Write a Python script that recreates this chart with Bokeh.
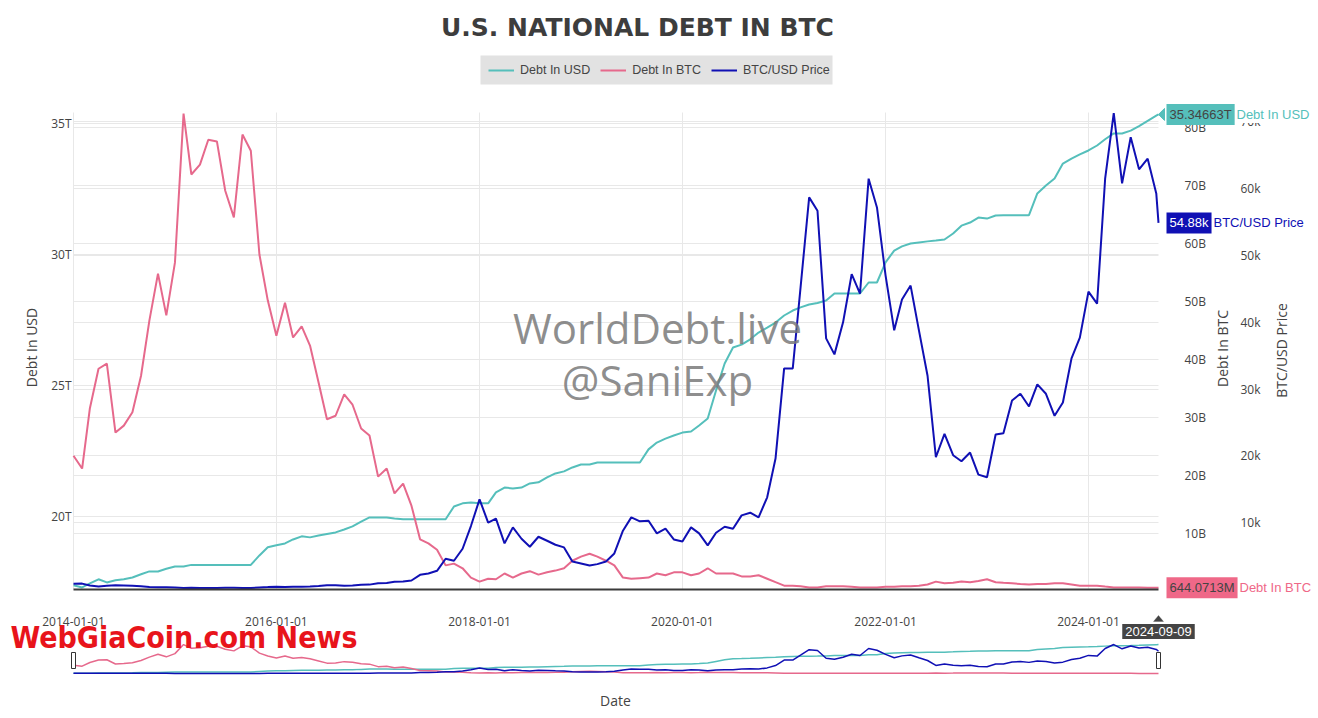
import numpy as np
import pandas as pd
from bokeh.plotting import figure
from bokeh.models import (Range1d, LinearAxis, DatetimeAxis, FixedTicker, Grid, Label,
                          Legend, LegendItem, PolyAnnotation, BoxAnnotation,
                          DatetimeTickFormatter, ColumnDataSource)
from bokeh.embed import file_html
from bokeh.resources import INLINE

# ---------------- data ----------------
months = list(pd.date_range("2014-01-01", "2024-09-01", freq="MS"))
dates = months + [pd.Timestamp("2024-09-09")]

debt_usd_t = [
    17.37, 17.29, 17.44, 17.60, 17.48, 17.56, 17.60, 17.67, 17.79, 17.90, 17.90, 18.00,
    18.09, 18.09, 18.15, 18.15, 18.15, 18.15, 18.15, 18.15, 18.15, 18.15, 18.51, 18.82,
    18.90, 18.97, 19.12, 19.24, 19.20, 19.27, 19.33, 19.39, 19.50, 19.62, 19.80, 19.96,
    19.96, 19.96, 19.92, 19.89, 19.89, 19.89, 19.89, 19.89, 19.89, 20.38, 20.50, 20.53,
    20.50, 20.50, 20.92, 21.10, 21.07, 21.10, 21.26, 21.30, 21.49, 21.64, 21.72, 21.87,
    21.98, 21.98, 22.06, 22.06, 22.06, 22.06, 22.06, 22.06, 22.56, 22.82, 22.97, 23.09,
    23.20, 23.24, 23.47, 23.74, 24.81, 25.84, 26.45, 26.56, 26.76, 27.02, 27.21, 27.40,
    27.67, 27.86, 27.98, 28.09, 28.15, 28.24, 28.51, 28.51, 28.51, 28.51, 28.93, 28.93,
    29.70, 30.15, 30.31, 30.42, 30.46, 30.50, 30.53, 30.57, 30.80, 31.10, 31.22, 31.41,
    31.37, 31.49, 31.50, 31.50, 31.50, 31.50, 32.33, 32.63, 32.90, 33.47, 33.66, 33.82,
    33.97, 34.16, 34.40, 34.62, 34.62, 34.73, 34.90, 35.10, 35.30,
    35.34663,
]

debt_btc_b = [
    23.4, 21.2, 31.6, 38.4, 39.3, 27.4, 28.6, 30.9, 37.2, 46.7, 54.8, 47.6,
    56.7, 82.4, 71.9, 73.6, 77.9, 77.6, 69.1, 64.5, 78.8, 76.0, 58.1, 50.2,
    44.1, 49.8, 43.8, 45.7, 42.4, 36.0, 29.7, 30.3, 34.0, 32.2, 28.1, 26.9,
    19.8, 21.2, 16.9, 18.6, 14.8, 9.0, 8.3, 7.2, 4.5, 4.8, 4.0, 2.4,
    1.7, 2.2, 2.1, 3.1, 2.4, 3.1, 3.5, 2.9, 3.3, 3.6, 4.0, 5.3,
    6.0, 6.5, 6.0, 5.3, 4.5, 2.4, 2.2, 2.3, 2.4, 3.1, 2.8, 3.3,
    3.3, 2.8, 3.1, 4.0, 3.1, 3.1, 3.1, 2.6, 2.6, 2.8, 2.2, 1.6,
    1.0, 1.0, 0.9, 0.7, 0.7, 0.9, 0.9, 0.9, 0.8, 0.7, 0.7, 0.7,
    0.8, 0.8, 0.9, 0.9, 1.0, 1.2, 1.7, 1.4, 1.5, 1.7, 1.6, 1.8,
    2.1, 1.6, 1.5, 1.4, 1.3, 1.2, 1.3, 1.3, 1.4, 1.4, 1.2, 1.0,
    1.0, 1.0, 0.85, 0.7, 0.7, 0.7, 0.68, 0.66, 0.66,
    0.6440713,
]

btc_price_k = [
    0.86, 0.88, 0.60, 0.45, 0.55, 0.62, 0.60, 0.55, 0.48, 0.38, 0.35, 0.35,
    0.30, 0.22, 0.25, 0.24, 0.23, 0.23, 0.26, 0.28, 0.23, 0.24, 0.30, 0.36,
    0.43, 0.37, 0.42, 0.42, 0.44, 0.53, 0.65, 0.63, 0.58, 0.60, 0.70, 0.73,
    0.95, 0.97, 1.15, 1.20, 1.35, 2.20, 2.40, 2.80, 4.60, 4.30, 6.10, 9.50,
    13.5, 10.0, 10.6, 6.9, 9.3, 7.6, 6.4, 7.9, 7.3, 6.7, 6.3, 4.2,
    3.9, 3.6, 3.8, 4.2, 5.4, 8.8, 10.8, 10.2, 10.3, 8.4, 9.1, 7.5,
    7.2, 9.3, 8.4, 6.6, 8.5, 9.4, 9.1, 11.1, 11.5, 10.8, 13.8, 19.6,
    33.1, 33.1, 45.2, 58.7, 56.7, 37.6, 35.2, 40.0, 47.2, 44.3, 61.5, 57.2,
    47.0, 38.8, 43.4, 45.5, 38.8, 32.0, 19.8, 23.3, 20.1, 19.2, 20.5, 17.2,
    16.8, 23.2, 23.4, 28.3, 29.3, 27.4, 30.7, 29.3, 26.0, 28.0, 34.6, 37.7,
    44.6, 42.8, 61.5, 71.3, 60.8, 67.7, 62.9, 64.5, 59.3,
    54.88,
]

series_names = ["Debt In USD", "Debt In BTC", "BTC/USD Price"]
usd_ticks = [20, 25, 30, 35]
usd_tick_labels = ["20T", "25T", "30T", "35T"]
btc_ticks = [10, 20, 30, 40, 50, 60, 70, 80]
btc_tick_labels = ["10B", "20B", "30B", "40B", "50B", "60B", "70B", "80B"]
price_ticks = [10, 20, 30, 40, 50, 60, 70]
price_tick_labels = ["10k", "20k", "30k", "40k", "50k", "60k", "70k"]
date_tick_labels = ["2014-01-01", "2016-01-01", "2018-01-01", "2020-01-01", "2022-01-01", "2024-01-01"]

# axis extents (value at bottom / top of the main plot area)
usd_lo, usd_hi = 17.21, 35.42
btc_lo, btc_hi = 0.34, 82.59
price_lo, price_hi = 0.0, 71.41

# ---------------- styles / layout (page pixels) ----------------
TEAL, PINK, BLUE = "#55bfbb", "#e6698c", "#1010b4"
TXT = "#444444"
CW, CH = 1318, 718
PAGE_L, PAGE_R, PAGE_T, PAGE_MB, PAGE_ST, PAGE_B = 73, 1158, 112, 589, 644, 673

x0_ms = dates[0].value / 1e6
x1_ms = dates[-1].value / 1e6


def x_full_range():
    per = (x1_ms - x0_ms) / (PAGE_R - PAGE_L)
    return Range1d(x0_ms - PAGE_L * per, x1_ms + (CW - PAGE_R) * per)


def main_range(lo, hi):
    per = (hi - lo) / (PAGE_MB - PAGE_T)
    return Range1d(lo - (CH - PAGE_MB) * per, hi + PAGE_T * per)


def slider_range(lo, hi):
    per = (hi - lo) / (PAGE_B - PAGE_ST)
    return Range1d(lo - (CH - PAGE_B) * per, lo + PAGE_B * per)


def sy(py):
    return CH - py


src = ColumnDataSource(dict(date=dates, usd=debt_usd_t, btc=debt_btc_b, price=btc_price_k))

p = figure(width=CW, height=CH, output_backend="svg", toolbar_location=None,
           x_axis_location=None, y_axis_location=None,
           x_range=x_full_range(), y_range=main_range(usd_lo, usd_hi),
           min_border=0, min_border_left=0, min_border_right=0,
           min_border_top=0, min_border_bottom=0)
p.center = []          # drop default grids
p.outline_line_color = None
p.background_fill_color = "white"
p.border_fill_color = "white"

p.extra_y_ranges = {
    "btc": main_range(btc_lo, btc_hi),
    "price": main_range(price_lo, price_hi),
    "usd_s": slider_range(usd_lo, usd_hi),
    "btc_s": slider_range(btc_lo, btc_hi),
    "price_s": slider_range(price_lo, price_hi),
}

# ---------------- grids ----------------
x_tick_ms = [pd.Timestamp(s).value / 1e6 for s in date_tick_labels]
GRID = "#e8e8e8"
p.add_layout(Grid(dimension=0, ticker=FixedTicker(ticks=x_tick_ms), grid_line_color=GRID,
                  cross_bounds=(usd_lo, usd_hi)))
p.add_layout(Grid(dimension=1, ticker=FixedTicker(ticks=usd_ticks), grid_line_color=GRID,
                  cross_bounds=(x0_ms, x1_ms)))
p.add_layout(Grid(dimension=1, ticker=FixedTicker(ticks=btc_ticks), grid_line_color=GRID,
                  cross_bounds=(x0_ms, x1_ms), y_range_name="btc"))
p.add_layout(Grid(dimension=1, ticker=FixedTicker(ticks=price_ticks), grid_line_color=GRID,
                  cross_bounds=(x0_ms, x1_ms), y_range_name="price"))

# ---------------- lines ----------------
r_usd = p.line("date", "usd", source=src, line_color=TEAL, line_width=2)
r_btc = p.line("date", "btc", source=src, line_color=PINK, line_width=2, y_range_name="btc")
r_price = p.line("date", "price", source=src, line_color=BLUE, line_width=2, y_range_name="price")
# range-slider preview
p.line("date", "usd", source=src, line_color=TEAL, line_width=1.5, y_range_name="usd_s")
p.line("date", "btc", source=src, line_color=PINK, line_width=1.5, y_range_name="btc_s")
p.line("date", "price", source=src, line_color=BLUE, line_width=1.5, y_range_name="price_s")

# ---------------- axes ----------------
def style_axis(ax, standoff):
    ax.axis_line_color = None
    ax.major_tick_line_color = None
    ax.minor_tick_line_color = None
    ax.major_tick_out = 0
    ax.major_tick_in = 0
    ax.minor_tick_out = 0
    ax.major_label_text_font = "Open Sans"
    ax.major_label_text_font_size = "12px"
    ax.major_label_text_color = TXT
    ax.major_label_standoff = standoff


ax_usd = LinearAxis(ticker=FixedTicker(ticks=usd_ticks), fixed_location=x0_ms,
                    major_label_overrides=dict(zip(usd_ticks, usd_tick_labels)))
style_axis(ax_usd, 2)
p.add_layout(ax_usd, "left")

ax_btc = LinearAxis(y_range_name="btc", ticker=FixedTicker(ticks=btc_ticks), fixed_location=x1_ms,
                    major_label_overrides=dict(zip(btc_ticks, btc_tick_labels)))
style_axis(ax_btc, 26)
p.add_layout(ax_btc, "right")

ax_price = LinearAxis(y_range_name="price", ticker=FixedTicker(ticks=price_ticks), fixed_location=x1_ms,
                      major_label_overrides=dict(zip(price_ticks, price_tick_labels)))
style_axis(ax_price, 82)
p.add_layout(ax_price, "right")

ax_x = DatetimeAxis(ticker=FixedTicker(ticks=x_tick_ms), fixed_location=usd_lo,
                    formatter=DatetimeTickFormatter(years="%Y-%m-%d", months="%Y-%m-%d",
                                                    days="%Y-%m-%d"))
style_axis(ax_x, 27)
ax_x.axis_line_color = "#3a3a3a"
ax_x.axis_line_width = 2
ax_x.bounds = (x0_ms, x1_ms)
p.add_layout(ax_x, "below")

# ---------------- legend ----------------
p.add_layout(BoxAnnotation(left=480, right=832, top=sy(55), bottom=sy(84),
                           left_units="screen", right_units="screen",
                           top_units="screen", bottom_units="screen",
                           fill_color="#e2e2e2", fill_alpha=1, line_color=None))
legend = Legend(items=[LegendItem(label=series_names[0], renderers=[r_usd]),
                       LegendItem(label=series_names[1], renderers=[r_btc]),
                       LegendItem(label=series_names[2], renderers=[r_price])],
                orientation="horizontal", location=(488, sy(77)),
                background_fill_alpha=0, border_line_color=None,
                label_text_font="Liberation Sans",
                label_text_font_size="12.5px", label_text_color=TXT,
                glyph_width=26, glyph_height=14, label_height=14, label_standoff=6,
                spacing=10, padding=0, margin=0)
p.add_layout(legend)

# ---------------- texts ----------------
def lab(**kw):
    base = dict(x_units="screen", y_units="screen", text_font="Open Sans",
                text_font_size="12px", text_color=TXT, text_align="center",
                text_baseline="middle")
    base.update(kw)
    l = Label(**base)
    p.add_layout(l)
    return l


lab(x=637, y=sy(27), text="U.S. NATIONAL DEBT IN BTC", text_font="DejaVu Sans",
    text_font_style="bold", text_font_size="25px", text_color="#3d3d3d")
lab(x=31, y=sy(347), text="Debt In USD", angle=np.pi / 2, text_font_size="14px")
lab(x=1222, y=sy(348), text="Debt In BTC", angle=np.pi / 2, text_font_size="14px")
lab(x=1281, y=sy(350), text="BTC/USD Price", angle=np.pi / 2, text_font_size="14px")
lab(x=615, y=sy(700), text="Date", text_font_size="14px")

lab(x=657, y=sy(327), text="WorldDebt.live", text_font_size="42px",
    text_color="#7a7a7a", text_alpha=0.85)
lab(x=657, y=sy(379), text="@SaniExp", text_font_size="42px",
    text_color="#7a7a7a", text_alpha=0.85)

# hover-style labels at the last point
hover_specs = [
    ("default", debt_usd_t[-1], f"{debt_usd_t[-1]:.5f}T", TEAL, TXT, series_names[0], 77, True),
    ("price", btc_price_k[-1], f"{btc_price_k[-1]:.2f}k", BLUE, "white", series_names[2], 54, False),
    ("btc", debt_btc_b[-1], f"{debt_btc_b[-1] * 1000:.4f}M", "#ef6888", TXT, series_names[1], 80, False),
]
rngs = {"default": p.y_range, **p.extra_y_ranges}
for rname, val, txt, fill, tcol, name, name_off, white_bg in hover_specs:
    rng = rngs[rname]
    d = 6 * (rng.end - rng.start) / CH
    p.add_layout(PolyAnnotation(xs=[PAGE_R, PAGE_R + 6, PAGE_R + 6], xs_units="screen",
                                ys=[val, val + d, val - d], ys_units="data",
                                y_range_name=rname, fill_color=fill, fill_alpha=1,
                                line_color=fill, line_alpha=1))
    p.add_layout(Label(x=x1_ms, y=val, y_range_name=rname, x_offset=8, text=txt,
                       text_font="Liberation Sans", text_font_size="13px", text_color=tcol,
                       text_align="left", text_baseline="middle",
                       background_fill_color=fill, background_fill_alpha=1, padding=3))
    p.add_layout(Label(x=x1_ms, y=val, y_range_name=rname, x_offset=name_off, text=name,
                       text_font="Liberation Sans", text_font_size="13px", text_color=fill,
                       text_align="left", text_baseline="middle",
                       background_fill_color="white" if white_bg else None,
                       background_fill_alpha=1 if white_bg else 0, padding=1))

# x hover label
p.add_layout(PolyAnnotation(xs=[PAGE_R, PAGE_R - 5, PAGE_R + 5], ys=[sy(615), sy(621), sy(621)],
                            xs_units="screen", ys_units="screen", fill_color="#444444",
                            fill_alpha=1, line_color="#444444"))
p.add_layout(Label(x=x1_ms, y=sy(631), y_units="screen", text=dates[-1].strftime("%Y-%m-%d"),
                   text_font="Liberation Sans", text_font_size="13px", text_color="white",
                   text_align="center", text_baseline="middle",
                   background_fill_color="#444444", background_fill_alpha=1, padding=3))

# range slider handles
for l, r in [(PAGE_L - 2, PAGE_L + 2), (PAGE_R - 2, PAGE_R + 2)]:
    p.add_layout(BoxAnnotation(left=l, right=r, bottom=sy(668), top=sy(652),
                               left_units="screen", right_units="screen",
                               bottom_units="screen", top_units="screen",
                               fill_color="white", fill_alpha=1, line_color="#333333",
                               line_width=1, line_alpha=1))

# overlaid site stamp
lab(x=10, y=sy(637), text="WebGiaCoin.com News", text_align="left",
    text_baseline="middle", text_font="'DejaVu Sans Condensed', 'Liberation Sans'",
    text_font_style="bold", text_font_size="30px", text_color="#e8141b")

open("out.html", "w").write(file_html(p, INLINE))
